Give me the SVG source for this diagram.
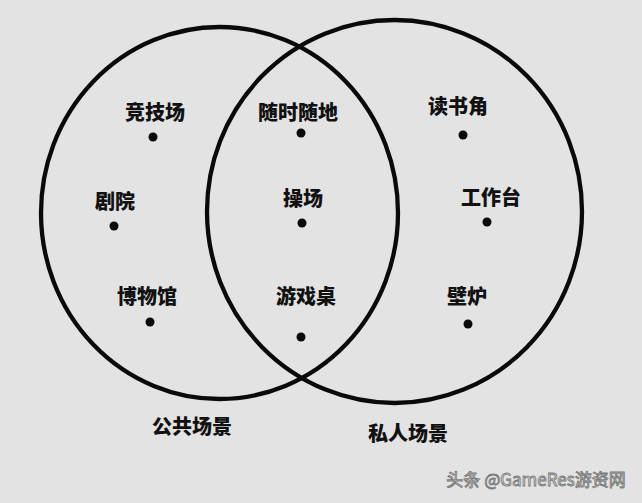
<svg xmlns="http://www.w3.org/2000/svg" width="642" height="503" viewBox="0 0 642 503">
<style>
.set{fill:none;stroke:#0a0a0a;stroke-width:4.3}
.lbl{font-family:"Noto Sans CJK SC","Noto Sans CJK JP",sans-serif;font-weight:900;font-size:20px;fill:#111;text-anchor:middle}
.dot{fill:#0a0a0a}
.wm{font-family:"Noto Sans CJK SC","Liberation Sans",sans-serif;font-size:17px;fill:#f4f4f4;stroke:#7a7a7a;stroke-width:0.9}
</style>
<rect width="642" height="503" fill="#e3e3e3"/>
<g id="sets">
<ellipse id="public" class="set" cx="219.5" cy="213" rx="178.5" ry="186"/>
<ellipse id="private" class="set" cx="394.5" cy="211.5" rx="187.5" ry="191.5"/>
</g>
<g id="n-arena"><text class="lbl" x="155" y="120">竞技场</text><circle class="dot" cx="153" cy="137" r="4.5"/></g>
<g id="n-theatre"><text class="lbl" x="115" y="209">剧院</text><circle class="dot" cx="114" cy="226" r="4.5"/></g>
<g id="n-museum"><text class="lbl" x="147" y="304">博物馆</text><circle class="dot" cx="150" cy="322" r="4.5"/></g>
<g id="n-anywhere"><text class="lbl" x="298" y="120">随时随地</text><circle class="dot" cx="301" cy="133" r="4.5"/></g>
<g id="n-playground"><text class="lbl" x="303" y="206">操场</text><circle class="dot" cx="302" cy="223" r="4.5"/></g>
<g id="n-gametable"><text class="lbl" x="306" y="304">游戏桌</text><circle class="dot" cx="301" cy="337" r="4.5"/></g>
<g id="n-reading"><text class="lbl" x="458" y="114">读书角</text><circle class="dot" cx="463" cy="135" r="4.5"/></g>
<g id="n-workbench"><text class="lbl" x="491" y="205">工作台</text><circle class="dot" cx="487" cy="222" r="4.5"/></g>
<g id="n-fireplace"><text class="lbl" x="467" y="304">壁炉</text><circle class="dot" cx="468" cy="324" r="4.5"/></g>
<g id="set-labels">
<text class="lbl" x="192" y="434">公共场景</text>
<text class="lbl" x="408" y="441">私人场景</text>
</g>
<text class="wm" x="536" y="486" text-anchor="middle">头条 @GameRes游资网</text>
</svg>
